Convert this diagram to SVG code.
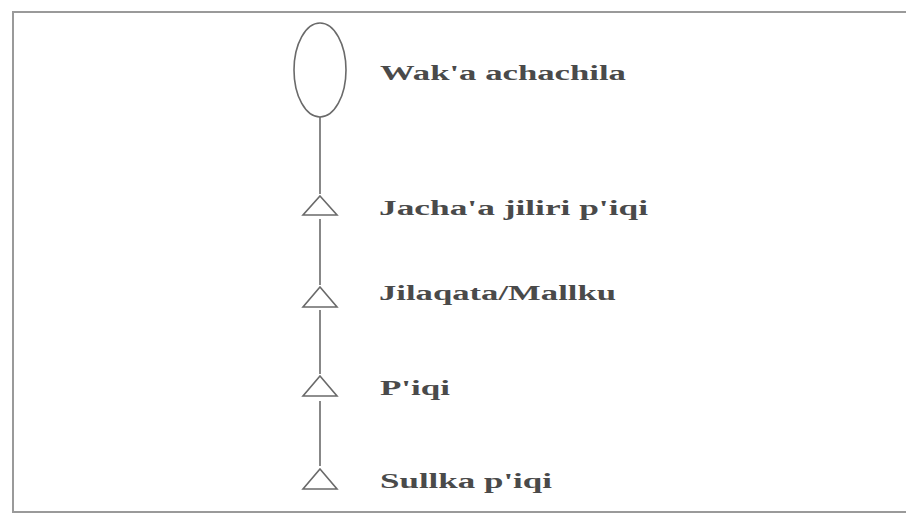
<svg xmlns="http://www.w3.org/2000/svg" width="906" height="516" viewBox="0 0 906 516">
  <style>
    .frame { fill: #ffffff; stroke: #9a9a9a; stroke-width: 2; }
    .shape { fill: none; stroke: #6a6a6a; stroke-width: 1.6; }
    .link { stroke: #6a6a6a; stroke-width: 1.6; fill: none; }
    .label { font-family: "Liberation Serif", "Times New Roman", serif; font-weight: bold; font-size: 20px; fill: #4a4a4a; }
  </style>
  <rect x="0" y="0" width="906" height="516" fill="#ffffff"/>
  <rect class="frame" x="13" y="12" width="900" height="500"/>

  <g id="connectors">
    <line class="link" x1="320" y1="117" x2="320" y2="194"/>
    <line class="link" x1="320" y1="219" x2="320" y2="285"/>
    <line class="link" x1="320" y1="310" x2="320" y2="374"/>
    <line class="link" x1="320" y1="401" x2="320" y2="466"/>
  </g>

  <g id="wak-a-achachila">
    <ellipse class="shape" cx="320" cy="70" rx="26" ry="47"/>
    <text class="label" x="380" y="80" textLength="246" lengthAdjust="spacingAndGlyphs">Wak'a achachila</text>
  </g>

  <g id="jacha-a-jiliri-piqi">
    <polygon class="shape" points="320,196 337,215 303,215"/>
    <text class="label" x="379" y="215" textLength="269" lengthAdjust="spacingAndGlyphs">Jacha'a jiliri p'iqi</text>
  </g>

  <g id="jilaqata-mallku">
    <polygon class="shape" points="320,287 337,307 303,307"/>
    <text class="label" x="379" y="300" textLength="237" lengthAdjust="spacingAndGlyphs">Jilaqata/Mallku</text>
  </g>

  <g id="piqi">
    <polygon class="shape" points="320,376 337,396 303,396"/>
    <text class="label" x="380" y="395" textLength="70" lengthAdjust="spacingAndGlyphs">P'iqi</text>
  </g>

  <g id="sullka-piqi">
    <polygon class="shape" points="320,469 337,489 303,489"/>
    <text class="label" x="380" y="488" textLength="172" lengthAdjust="spacingAndGlyphs">Sullka p'iqi</text>
  </g>
</svg>
